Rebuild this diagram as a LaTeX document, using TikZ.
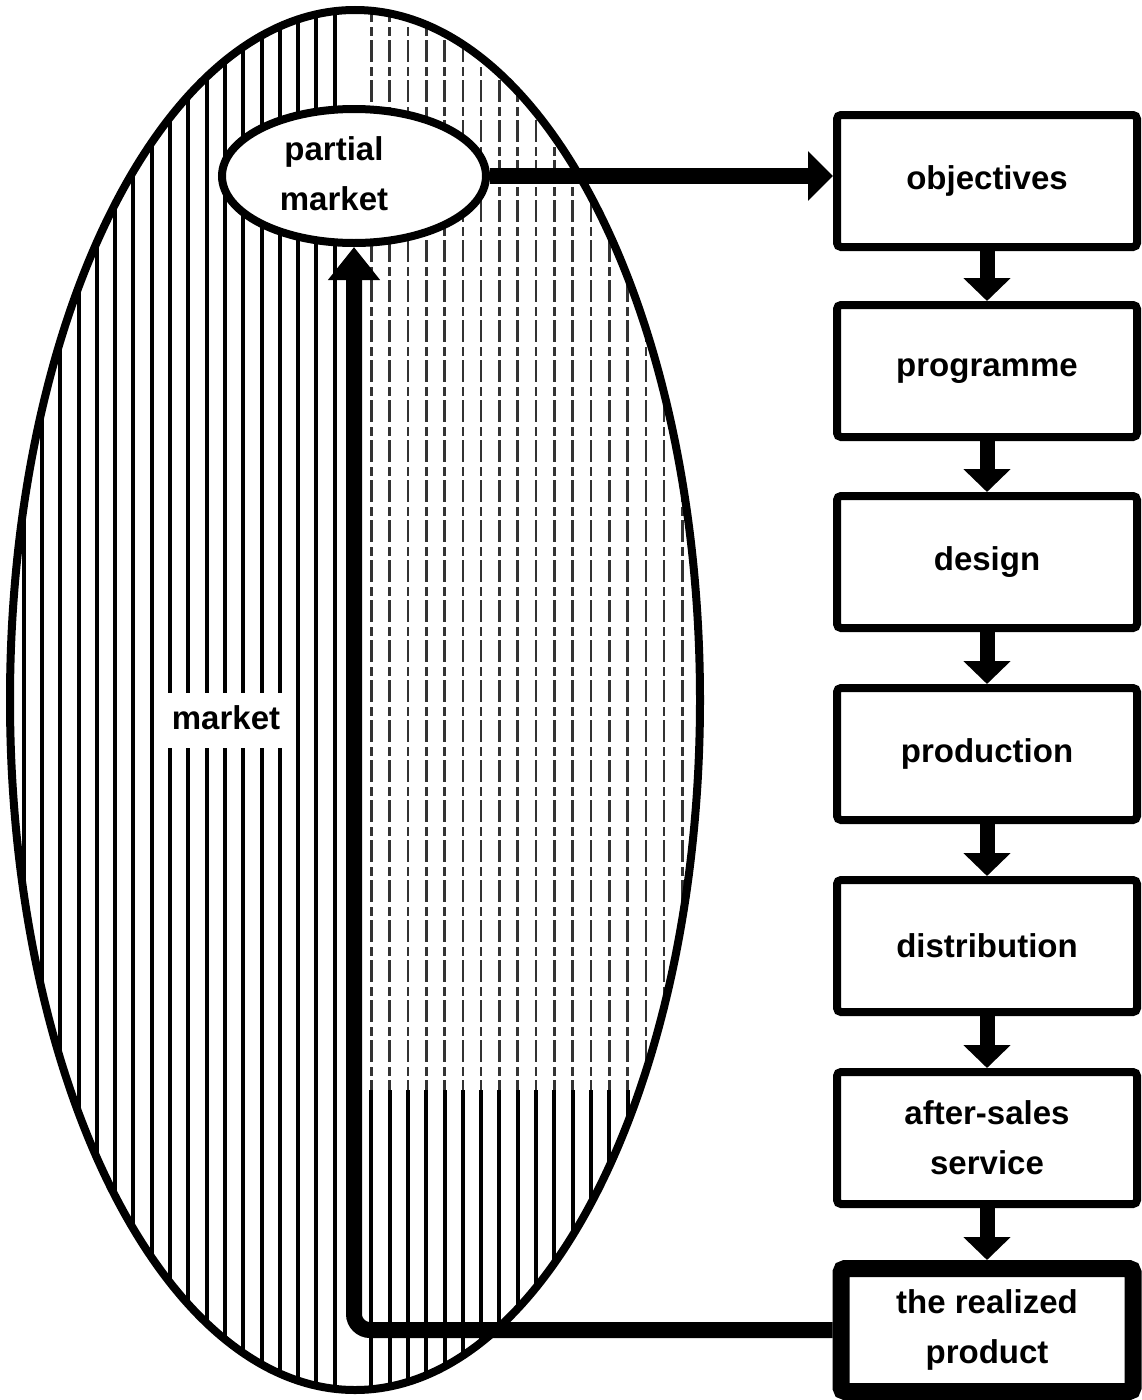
\documentclass[tikz,border=0pt]{standalone}
\usepackage{fontspec}
\setmainfont{Liberation Sans}
\usetikzlibrary{arrows.meta,shapes.geometric}
\tikzset{
  lbl/.style={font=\bfseries\fontsize{33}{50}\selectfont, align=center},
  stepbox/.style={draw, line width=8pt, rounded corners=4pt, fill=white,
    minimum width=300pt, minimum height=132pt, inner sep=0pt, lbl},
  hatchL/.style={line width=4pt, black},
  hatchR/.style={line width=2.6pt, black!80, dash pattern=on 22pt off 5pt on 9pt off 4pt},
  flowv/.style={line width=15pt, -{Triangle[width=46pt,length=23pt]}},
  flowh/.style={line width=16pt, -{Triangle[width=48pt,length=25pt]}},
}
\begin{document}
\begin{tikzpicture}[x=1pt,y=-1pt]
\useasboundingbox (0,0) rectangle (1141,1400);
% hatching inside the market ellipse
\begin{scope}
  \clip (355,700) ellipse [x radius=345, y radius=690];
  \foreach \k in {-19,...,-1} {
    \draw[hatchL] ({353+18.3*\k},0) -- ({353+18.3*\k},1400);
  }
  \foreach \k in {1,...,19} {
    \draw[hatchR] ({353+18.3*\k},0) -- ({353+18.3*\k},1090);
    \draw[hatchL] ({353+18.3*\k},1090) -- ({353+18.3*\k},1400);
  }
\end{scope}
% outer market ellipse
\draw[line width=8pt] (355,700) ellipse [x radius=345, y radius=690];
% partial market
\node[ellipse, draw, line width=8pt, fill=white, minimum width=264pt,
      minimum height=134pt, inner sep=0pt] (pm) at (354,176) {};
\node[lbl, inner sep=0pt] (pmtext) at (334,174) {partial\\market};
% market label with gap in hatching
\node[fill=white, minimum width=120pt, minimum height=55pt, inner sep=0pt] (mgap) at (226,720) {};
\node[lbl, inner sep=0pt] (mtext) at (226,718) {market};
% boxes
\node[stepbox] (obj)  at (987,181)  {objectives};
\node[stepbox] (prog) at (987,371)  {programme};
\node[stepbox] (des)  at (987,562)  {design};
\node[stepbox] (prod) at (987,754)  {production};
\node[stepbox] (dist) at (987,946)  {distribution};
\node[stepbox] (aft)  at (987,1138) {after-sales\\service};
\node[stepbox, line width=17pt, minimum width=292pt, minimum height=123pt] (real) at (987,1330) {the realized\\product};
% arrows between boxes
\draw[flowv] (obj.south) -- (prog.north);
\draw[flowv] (prog.south) -- (des.north);
\draw[flowv] (des.south) -- (prod.north);
\draw[flowv] (prod.south) -- (dist.north);
\draw[flowv] (dist.south) -- (aft.north);
\draw[flowv] (aft.south) -- (real.north);
% partial market to objectives
\draw[flowh] (pm.east) -- (pm.east -| obj.west);
% realized product back to partial market
\draw[line width=16pt, rounded corners=16pt, -{Triangle[width=50pt,length=33pt]}]
  (real.west) -| (pm.south);
\end{tikzpicture}
\end{document}
